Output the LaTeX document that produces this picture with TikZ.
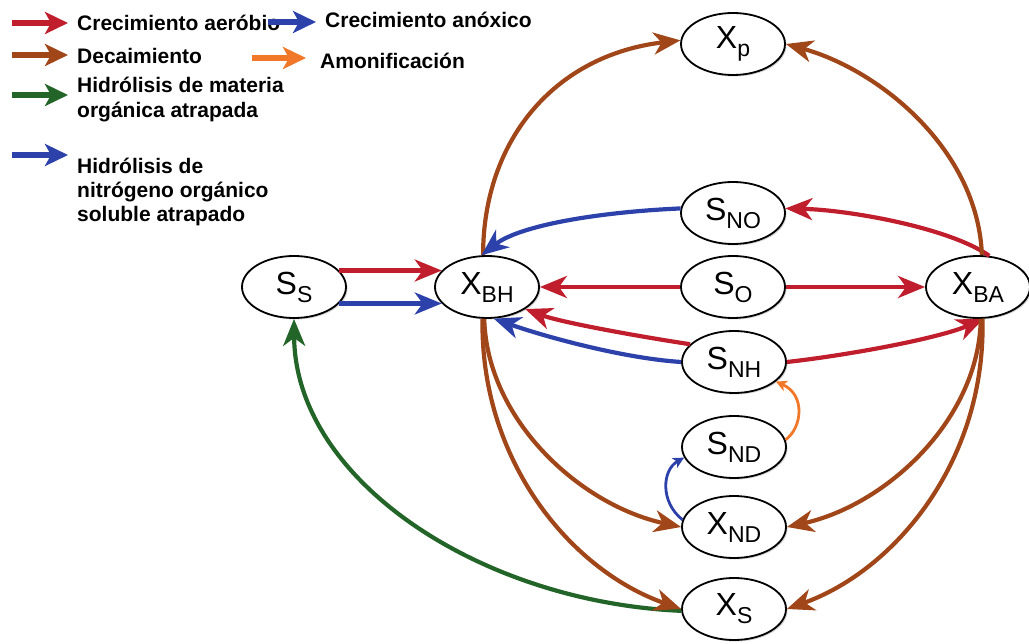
\documentclass[tikz,border=0pt]{standalone}
\usepackage{fontspec}
\setmainfont{Liberation Sans}
\usetikzlibrary{arrows.meta,shapes.geometric,shadows}
\definecolor{cred}{RGB}{192,30,45}
\definecolor{cblue}{RGB}{45,65,170}
\definecolor{cbrown}{RGB}{160,70,25}
\definecolor{cgreen}{RGB}{35,100,40}
\definecolor{corange}{RGB}{240,120,40}
\newcommand{\nlab}[2]{\fontsize{32}{32}\selectfont #1\raisebox{-8pt}{\fontsize{23}{23}\selectfont #2}}
\begin{document}
\begin{tikzpicture}[x=1pt,y=-1pt,
  statenode/.style={ellipse,draw=black,line width=1.8pt,fill=white,minimum width=104pt,minimum height=62pt,inner sep=0pt,
    drop shadow={shadow xshift=1.5pt,shadow yshift=-1.5pt,opacity=0.35}},
  flowarr/.style={line width=4.2pt,-{Stealth[length=27pt,width=22pt,inset=8pt]}},
  smallarr/.style={line width=2.8pt,-{Stealth[length=11pt,width=11pt,inset=3pt]}},
  legarr/.style={line width=5.5pt,-{Stealth[length=23pt,width=22pt,inset=6pt]}},
  legtxt/.style={anchor=base west,inner sep=0pt,font=\bfseries\fontsize{21}{25}\selectfont},
]
\useasboundingbox (0,0) rectangle (1029,644);

% legend
\node[legtxt] (t1) at (77,31) {Crecimiento aeróbio};
\node[legtxt] (t2) at (325,28) {Crecimiento anóxico};
\node[legtxt] (t3) at (77,64) {Decaimiento};
\node[legtxt] (t4) at (320,69) {Amonificación};
\node[legtxt] (t5a) at (77,93) {Hidrólisis de materia};
\node[legtxt] (t5b) at (77,118) {orgánica atrapada};
\node[legtxt] (t6a) at (77,174) {Hidrólisis de};
\node[legtxt] (t6b) at (77,198) {nitrógeno orgánico};
\node[legtxt] (t6c) at (77,222) {soluble atrapado};
\coordinate (l1a) at (12,23); \coordinate (l1b) at (68,23);
\coordinate (l2a) at (268,22); \coordinate (l2b) at (316,22);
\coordinate (l3a) at (12,55); \coordinate (l3b) at (68,55);
\coordinate (l4a) at (252,58); \coordinate (l4b) at (306,58);
\coordinate (l5a) at (12,95); \coordinate (l5b) at (68,95);
\coordinate (l6a) at (12,155); \coordinate (l6b) at (68,155);
\draw[legarr,cred] (l1a) -- (l1b);
\draw[legarr,cblue] (l2a) -- (l2b);
\draw[legarr,cbrown] (l3a) -- (l3b);
\draw[legarr,corange] (l4a) -- (l4b);
\draw[legarr,cgreen] (l5a) -- (l5b);
\draw[legarr,cblue] (l6a) -- (l6b);

% nodes
\node[statenode] (Xp) at (733,44) {\nlab{X}{p}};
\node[statenode] (SNO) at (733,213) {\nlab{S}{NO}};
\node[statenode] (SO) at (733,287) {\nlab{S}{O}};
\node[statenode] (XBA) at (978,287) {\nlab{X}{BA}};
\node[statenode] (SNH) at (734,362) {\nlab{S}{NH}};
\node[statenode] (SND) at (734,447) {\nlab{S}{ND}};
\node[statenode] (XND) at (734,527) {\nlab{X}{ND}};
\node[statenode] (XS) at (734,609) {\nlab{X}{S}};
\node[statenode] (XBH) at (487,287) {\nlab{X}{BH}};
\node[statenode] (SS) at (294,287) {\nlab{S}{S}};

% connectors
\draw[flowarr,cred] (SS.20) -- (XBH.160);
\draw[flowarr,cblue] (SS.-20) -- (XBH.-160);
\draw[flowarr,cred] (SO.west) -- (XBH.east);
\draw[flowarr,cred] (SO.east) -- (XBA.west);
\draw[flowarr,cred] (XBA.70) .. controls (950,228) and (850,210) .. (SNO.5);
\draw[flowarr,cbrown] (XBA.83) .. controls (978,150) and (880,70) .. (Xp.east);
\draw[flowarr,cbrown] (XBH.97) .. controls (483,140) and (555,55) .. (Xp.176);
\draw[flowarr,cblue] (SNO.175) .. controls (600,212) and (520,225) .. (XBH.100);
\draw[flowarr,cred] (SNH.158) .. controls (630,335) and (560,322) .. (XBH.-30);
\draw[flowarr,cblue] (SNH.west) .. controls (620,358) and (540,335) .. (XBH.-78);
\draw[flowarr,cred] (SNH.east) .. controls (850,355) and (940,338) .. (XBA.-80);
\draw[flowarr,cgreen] (XS.182) .. controls (480,602) and (295,480) .. (SS.south);
\draw[flowarr,cbrown] (XBH.-95) .. controls (487,420) and (580,505) .. (XND.west);
\draw[flowarr,cbrown] (XBH.-98) .. controls (480,460) and (570,570) .. (XS.west);
\draw[flowarr,cbrown] (XBA.-85) .. controls (979,420) and (886,505) .. (XND.east);
\draw[flowarr,cbrown] (XBA.-82) .. controls (986,460) and (896,570) .. (XS.east);
\draw[smallarr,corange] (SND.8) .. controls (802,428) and (806,395) .. (SNH.-25);
\draw[smallarr,cblue] (XND.172) .. controls (660,502) and (662,470) .. (SND.192);
\end{tikzpicture}
\end{document}
